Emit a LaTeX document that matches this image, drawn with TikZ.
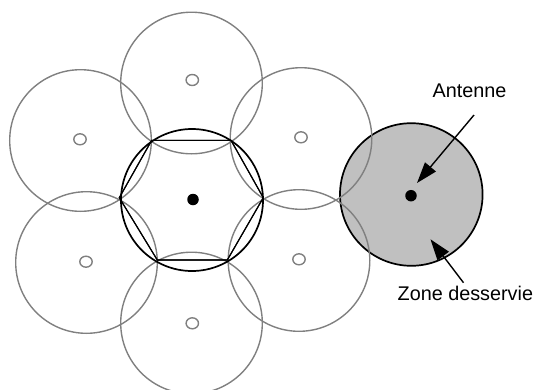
\documentclass[tikz,border=0pt]{standalone}
\usepackage{fontspec}
\setmainfont{Liberation Sans}
\usetikzlibrary{arrows.meta,shapes.geometric}
\definecolor{cellgray}{RGB}{128,128,128}
\definecolor{zonefill}{RGB}{192,192,192}
\begin{document}
\begin{tikzpicture}[x=1pt,y=-1pt,
  cell/.style={circle,draw=cellgray,line width=1.4pt,inner sep=0pt,minimum size=141.6pt},
  site/.style={ellipse,draw=cellgray,line width=1.4pt,inner sep=0pt,minimum width=12.4pt,minimum height=11pt},
  maincell/.style={circle,draw=black,line width=1.7pt,inner sep=0pt,minimum size=142pt},
  zone/.style={circle,draw=black,fill=zonefill,line width=1.7pt,inner sep=0pt,minimum size=142.6pt},
  antenna/.style={circle,fill=black,inner sep=0pt,minimum size=11.5pt},
  hexline/.style={draw=black,line width=1.1pt,line join=miter},
  pointer/.style={draw=black,line width=1.4pt,-{Triangle[length=21pt,width=14pt]}},
  label/.style={font=\fontsize{19.8}{24}\selectfont,inner sep=0pt}]
\useasboundingbox (0,0) rectangle (536,389);

% served area of the isolated antenna
\node[zone] (zoneC) at (411.3,194.5) {};

% neighbouring cells
\node[cell] (cTop) at (191.5,83) {};
\node[cell] (cUL)  at (80.5,140.5) {};
\node[cell] (cUR)  at (301,138.5) {};
\node[cell] (cLL)  at (86.5,262.5) {};
\node[cell] (cLR)  at (299,260.5) {};
\node[cell] (cBot) at (191.5,323) {};

% sites of the neighbouring cells
\node[site] (sTop) at (192.3,80) {};
\node[site] (sUL)  at (80,139.3) {};
\node[site] (sUR)  at (301,137.3) {};
\node[site] (sLL)  at (86,261.7) {};
\node[site] (sLR)  at (299,259.3) {};
\node[site] (sBot) at (192.3,323.3) {};

% central cell and its hexagon
\node[maincell] (cMain) at (192,200) {};
\coordinate (hL)  at (119.3,197.7);
\coordinate (hTL) at (151.7,140.3);
\coordinate (hTR) at (231,140.3);
\coordinate (hR)  at (263.3,197.7);
\coordinate (hBR) at (227.3,260);
\coordinate (hBL) at (157.3,260);
\draw[hexline] (hL) -- (hTL) -- (hTR) -- (hR) -- (hBR) -- (hBL) -- cycle;
\draw[hexline,yshift=-1.8pt] (hL) -- (hTL) -- (hTR) -- (hR) -- (hBR) -- (hBL) -- cycle;

% antennas
\node[antenna] (aMain) at (193,199.5) {};
\node[antenna] (aZone) at (411,195.7) {};

% labels and pointers
\node[label,anchor=base] (antLabel) at (469.5,97) {Antenne};
\node[label,anchor=base west] (zoneLabel) at (397.5,300) {Zone desservie};
\coordinate (antTail)  at (474,115);
\coordinate (antTip)   at (417,183);
\coordinate (zoneTail) at (463.5,282.7);
\coordinate (zoneTip)  at (430.5,239.3);
\draw[pointer] (antTail) -- (antTip);
\draw[pointer] (zoneTail) -- (zoneTip);
\end{tikzpicture}
\end{document}
